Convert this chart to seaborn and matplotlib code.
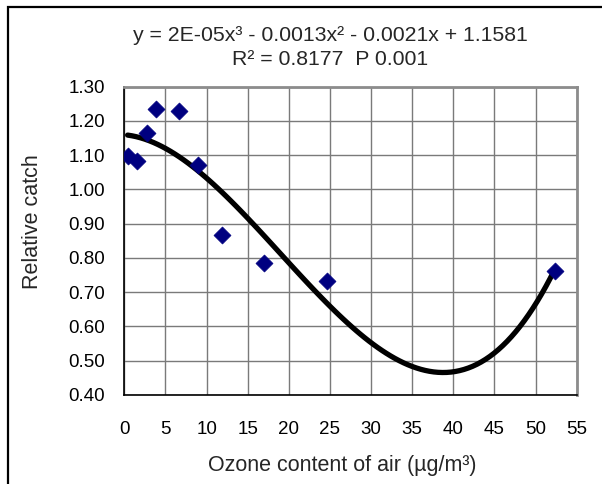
import numpy as np
import pandas as pd
import matplotlib
matplotlib.use("Agg")
import matplotlib.pyplot as plt
import seaborn as sns
from matplotlib.patches import Rectangle

ozone = [0.4, 1.5, 2.7, 3.85, 6.65, 8.9, 11.9, 17.0, 24.7, 52.3]
catch = [1.098, 1.084, 1.164, 1.235, 1.229, 1.072, 0.868, 0.785, 0.733, 0.762]
x_ticks = list(range(0, 60, 5))
y_ticks = [0.40, 0.50, 0.60, 0.70, 0.80, 0.90, 1.00, 1.10, 1.20, 1.30]

df = pd.DataFrame({"ozone": ozone, "catch": catch})

sns.set_theme(style="white")
plt.rcParams["font.family"] = ["Liberation Sans", "DejaVu Sans"]

fig = plt.figure(figsize=(6.02, 4.84), dpi=100)
ax = fig.add_axes([0.2065, 0.1839, 0.7515, 0.637])

# cubic trendline
sns.regplot(data=df, x="ozone", y="catch", order=3, ci=None, scatter=False,
            line_kws={"color": "black", "lw": 3.8, "zorder": 2}, ax=ax)
sns.scatterplot(data=df, x="ozone", y="catch", marker="D", s=75,
                color="#000080", edgecolor="#000080", linewidth=0.5, zorder=3, ax=ax)

ax.set_xlim(0, 55)
ax.set_ylim(0.40, 1.30)
ax.set_xticks(x_ticks)
ax.set_yticks(y_ticks)
ax.set_yticklabels([f"{v:.2f}" for v in y_ticks])
ax.grid(True, color="#7a7a7a", lw=1)
ax.set_axisbelow(True)

for side in ["left", "bottom"]:
    ax.spines[side].set_color("black")
    ax.spines[side].set_linewidth(1.2)
for side in ["top", "right"]:
    ax.spines[side].set_color("#8c8c8c")
    ax.spines[side].set_linewidth(2)

ax.tick_params(axis="both", labelsize=13.5, colors="black", length=5, width=1, direction="out")
ax.tick_params(axis="x", pad=14)
ax.tick_params(axis="y", pad=9)

ax.set_xlabel("Ozone content of air (µg/m³)", fontsize=15.5)
ax.set_ylabel("Relative catch", fontsize=15.5)
ax.xaxis.set_label_coords(0.481, -0.23)
ax.yaxis.set_label_coords(-0.202, 0.561)
ax.xaxis.label.set_va("center")
ax.yaxis.label.set_va("center")

fig.text(0.548, 0.926, "y = 2E-05x³ - 0.0013x² - 0.0021x + 1.1581",
         ha="center", va="center", fontsize=15.3)
fig.text(0.548, 0.877, "R² = 0.8177  P 0.001", ha="center", va="center", fontsize=15.3)

fig.patches.append(Rectangle((7.5 / 602, -0.1), 1.2, 1.1 - 7.5 / 484, transform=fig.transFigure,
                             fill=False, edgecolor="black", lw=1.6))

fig.savefig("out.png", dpi=100)
